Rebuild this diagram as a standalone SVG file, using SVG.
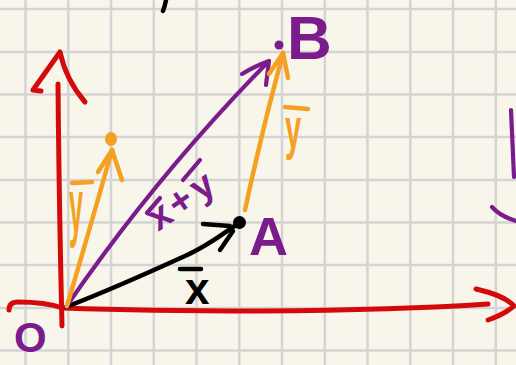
<svg xmlns="http://www.w3.org/2000/svg" width="516" height="365" viewBox="0 0 516 365">
  <style>
    .grid { stroke: #d4d4d4; stroke-width: 2.5; fill: none; }
    .s { fill: none; stroke-linecap: round; stroke-linejoin: round; }
    .red { stroke: #d40a0a; stroke-width: 5; }
    .pur { stroke: #7a1c8c; stroke-width: 4.2; }
    .org { stroke: #f5a020; stroke-width: 4.5; }
    .blk { stroke: #000; stroke-width: 4.5; }
    .lbl { font-family: "Liberation Sans", Arial, sans-serif; font-weight: bold; }
    .tp { fill: #7a1c8c; }
    .to { fill: #f5a020; }
    .tb { fill: #000; }
  </style>
  <rect width="516" height="365" fill="#f8f6eb"/>
  <g id="grid">
    <path class="grid" d="M25.5,0V365M68.3,0V365M111,0V365M153.8,0V365M196.5,0V365M239.3,0V365M282,0V365M324.8,0V365M367.5,0V365M410.3,0V365M453,0V365M495.8,0V365M0,9H516M0,52H516M0,94.5H516M0,137H516M0,180H516M0,222.5H516M0,265H516M0,308H516M0,350.5H516"/>
  </g>
  <g id="axes">
    <path class="s red" d="M58,84 Q59,200 62,326"/>
    <path class="s red" d="M41,91 L33,90 L60,52 Q66,80 85,102"/>
    <path class="s red" d="M9,310 Q9,302 18,302 Q45,302 63,308 Q150,311 260,311 Q400,310 488,304"/>
    <path class="s red" d="M476,289 L480,290 Q505,296 514,306 Q505,314 488,320"/>
  </g>
  <g id="connectors">
    <g id="vec-x">
      <path class="s blk" d="M66,307 C110,290 150,272 185,256 C210,245 225,232 239,223"/>
      <path class="s blk" d="M203,224 L230,226 M220,250 L233,231"/>
    </g>
    <g id="vec-xy">
      <path class="s pur" d="M66,307 Q157,175 268,62"/>
      <path class="s pur" d="M242,74 Q255,66 269,61 L266,85"/>
    </g>
    <g id="vec-y-origin">
      <path class="s org" d="M67,306 Q88,235 112,150"/>
      <path class="s org" d="M98,172 L112,150 L122,180"/>
    </g>
    <g id="vec-y-A">
      <path class="s org" d="M245,210 Q262,130 283,53"/>
      <path class="s org" d="M269,74 L283,53 L288,78"/>
    </g>
  </g>
  <g id="node-O">
    <text class="lbl tp" x="14" y="352" font-size="42">O</text>
  </g>
  <g id="node-A">
    <circle cx="239.5" cy="222.5" r="6.5" fill="#000"/>
    <text class="lbl tp" x="249" y="255" font-size="54">A</text>
  </g>
  <g id="node-B">
    <circle cx="279" cy="45" r="4.5" fill="#7a1c8c"/>
    <text class="lbl tp" x="287" y="59" font-size="62">B</text>
  </g>
  <g id="tip-y">
    <ellipse cx="111" cy="139" rx="6" ry="7" fill="#f5a020"/>
  </g>
  <g id="labels">
    <path class="s blk" d="M180,269 L201,269"/>
    <text class="lbl tb" x="185" y="304" font-size="44">x</text>
    <path class="s org" d="M72,183 L92,182"/>
    <text class="lbl to" transform="translate(69,232) scale(0.33,1)" font-size="76">y</text>
    <path class="s org" d="M285,107 L308,109"/>
    <text class="lbl to" transform="translate(285,148) scale(0.5,1)" font-size="58">y</text>
    <path class="s pur" d="M147,213 L160,198 M183,180 L200,160"/>
    <text class="lbl tp" transform="translate(158,232) rotate(-35)" font-size="38"><tspan x="0">x</tspan><tspan x="25">+</tspan><tspan x="52">y</tspan></text>
    <path class="s blk" d="M166,0 Q165,6 163,11"/>
    <path class="s pur" d="M511,110 L514,177 M492,207 Q500,216 516,221"/>
  </g>
</svg>
